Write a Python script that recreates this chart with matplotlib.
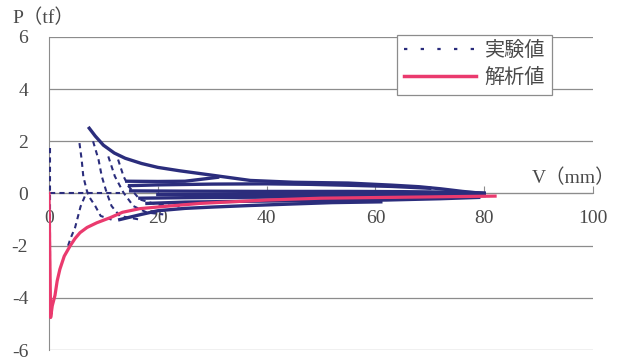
import matplotlib.pyplot as plt
from matplotlib.lines import Line2D

plt.rcParams["font.family"] = ["Liberation Serif", "Noto Sans CJK JP"]

navy = "#2B2D7C"
pink = "#EA3A6E"
gray_text = "#4A4A4A"

exp_v0 = [0.1, 0.1]
exp_p0 = [1.75, -3.9]
exp_vz = [0.1, 13.0]
exp_pz = [0.02, 0.02]
exp_va = [5.6, 6.0, 6.3, 6.9, 7.3, 8.5, 9.5, 11.5]
exp_pa = [1.93, 1.3, 0.66, 0.15, -0.1, -0.48, -0.86, -1.0]
exp_vr = [3.5, 4.0, 4.8, 5.8, 6.9]
exp_pr = [-2.0, -1.7, -1.3, -0.5, 0.05]
exp_vb = [8.1, 9.1, 9.7, 10.6, 11.5, 13.0, 16.7]
exp_pb = [2.0, 1.3, 0.66, 0.03, -0.48, -0.86, -1.0]
exp_vc = [10.9, 12.1, 13.7, 15.5, 18.0, 21.0]
exp_pc = [1.42, 0.66, 0.03, -0.48, -0.73, -0.8]
exp_vd = [12.7, 13.7, 14.6, 16.7, 19.8, 24.0]
exp_pd = [1.3, 0.66, 0.28, -0.23, -0.42, -0.5]

# experimental data, dense (solid looking) tails
env_v = [7.4, 8.5, 10, 12, 14, 17, 20, 24, 30, 37, 45, 55, 63, 68, 72, 76, 80]
env_p = [2.5, 2.2, 1.85, 1.55, 1.35, 1.15, 1.0, 0.87, 0.7, 0.5, 0.43, 0.4, 0.32, 0.26, 0.18, 0.08, 0.0]
u2_v = [14.3, 20, 25, 31]
u2_p = [0.47, 0.46, 0.47, 0.62]
u3_v = [14.8, 20, 30, 40, 48, 56, 63, 70]
u3_p = [0.3, 0.33, 0.36, 0.37, 0.35, 0.31, 0.27, 0.2]
u4_v = [15, 25, 40, 55, 65, 75, 80]
u4_p = [0.1, 0.09, 0.08, 0.08, 0.07, 0.05, 0.02]
z_v = [20, 40, 60, 80]
z_p = [-0.04, -0.04, -0.04, -0.03]
l1_v = [16.7, 25, 40, 55, 70, 80]
l1_p = [-0.18, -0.16, -0.14, -0.12, -0.1, -0.08]
l2_v = [18, 25, 35, 50, 62, 72, 79]
l2_p = [-0.38, -0.33, -0.3, -0.27, -0.25, -0.2, -0.15]
l3_v = [13, 17, 20, 25, 30, 37, 45, 52, 61]
l3_p = [-1.0, -0.8, -0.66, -0.57, -0.52, -0.46, -0.4, -0.35, -0.32]

# analysis curve
ana_v = [0, 0.3, 0.6, 1.1, 1.5, 2.0, 2.8, 3.9, 4.8, 5.7, 7.0, 8.8, 11.2, 13.5,
         16.7, 20.4, 27.8, 40, 50, 62, 74, 82]
ana_p = [0, -4.75, -4.3, -3.9, -3.35, -2.9, -2.4, -2.0, -1.72, -1.5, -1.3, -1.12,
         -0.93, -0.72, -0.58, -0.51, -0.38, -0.25, -0.18, -0.15, -0.12, -0.1]

fig = plt.figure(figsize=(6.34, 3.61), dpi=100)
ax = fig.add_axes([0.0773, 0.030, 0.858, 0.868])

dashed = [(exp_v0, exp_p0), (exp_vz, exp_pz), (exp_va, exp_pa), (exp_vr, exp_pr),
          (exp_vb, exp_pb), (exp_vc, exp_pc), (exp_vd, exp_pd)]
for v, p in dashed:
    ax.plot(v, p, color=navy, lw=1.5, dashes=(2.5, 2.0), zorder=3)

solid = [(env_v, env_p), (u2_v, u2_p), (u3_v, u3_p), (u4_v, u4_p), (z_v, z_p),
         (l1_v, l1_p), (l2_v, l2_p), (l3_v, l3_p)]
for v, p in solid:
    ax.plot(v, p, color=navy, lw=2.4, zorder=3)

ax.plot(ana_v, ana_p, color=pink, lw=2.3, zorder=4)

ax.set_xlim(0, 100)
ax.set_ylim(-6, 6)
ax.set_xticks([0, 20, 40, 60, 80, 100])
ax.set_yticks([-6, -4, -2, 0, 2, 4, 6])
ax.set_yticklabels(["-6", "-4", "-2", "0", "2", "4", "6"])
ax.yaxis.grid(True, color="#8C8C8C", lw=0.9)
ax.set_axisbelow(True)

for s in ["top", "right"]:
    ax.spines[s].set_visible(False)
ax.spines["left"].set_color("#8C8C8C")
ax.spines["bottom"].set_color("#8C8C8C")
ax.spines["bottom"].set_position(("data", 0))

ax.tick_params(axis="x", direction="in", length=5, color="#8C8C8C", pad=12,
               labelsize=14, labelcolor=gray_text)
ax.tick_params(axis="y", length=0, pad=15, labelsize=14, labelcolor=gray_text)

fig.text(0.02, 0.95, "P（tf）", fontsize=14, color=gray_text, va="center", ha="left")
fig.text(0.97, 0.507, "V（mm）", fontsize=14, color=gray_text, va="center", ha="right")

handles = [Line2D([], [], color=navy, lw=1.6, dashes=(1.5, 6)),
           Line2D([], [], color=pink, lw=2.5)]
leg = ax.legend(handles, ["実験値", "解析値"], loc="upper left",
                bbox_to_anchor=(0.626, 0.903), bbox_transform=fig.transFigure,
                fontsize=14.5, handlelength=3.6, fancybox=False, framealpha=1,
                edgecolor="#8C8C8C", borderpad=0.35, labelspacing=0.4,
                handletextpad=0.4, borderaxespad=0)
leg.get_frame().set_linewidth(0.9)
for t in leg.get_texts():
    t.set_color(gray_text)

fig.savefig("out.png", dpi=100)
